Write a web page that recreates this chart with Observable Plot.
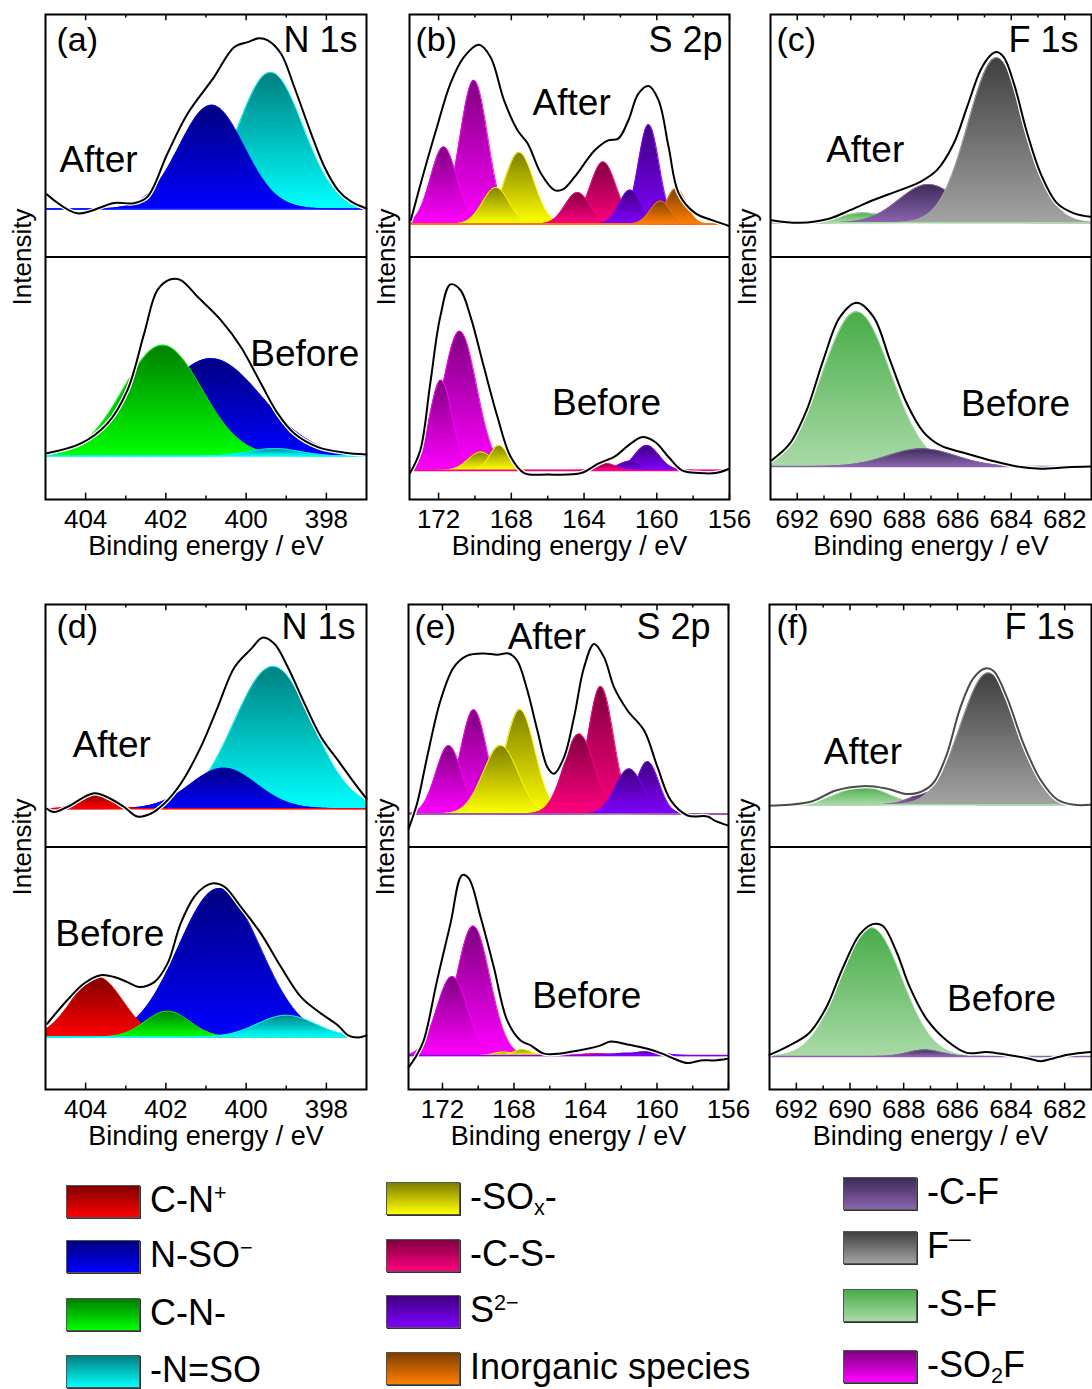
<!DOCTYPE html>
<html><head><meta charset="utf-8">
<script src="https://cdn.jsdelivr.net/npm/d3@7"></script>
<script src="https://cdn.jsdelivr.net/npm/@observablehq/plot@0.6"></script>
<style>
body{margin:0;background:#fff;font-family:"Liberation Sans",Arial,sans-serif;}
#root{position:relative;width:1092px;height:1389px;overflow:hidden;background:#fff;}
#root svg.pp{position:absolute;overflow:visible;}
.sw{position:absolute;width:72px;height:31px;border:1px solid #555;box-shadow:1px 1px 0 #333;}
.lt{position:absolute;font-size:36px;line-height:1;transform:translateY(-50%);white-space:nowrap;color:#000;}
.lt sup{font-size:60%;vertical-align:0.55em;line-height:0;}
.lt sub{font-size:60%;vertical-align:-0.3em;line-height:0;}
</style></head><body><div id="root"></div>
<script>
// ---------- species & colours ----------
const species = ["C-N+","N-SO-","C-N-","-N=SO","-SOx-","-C-S-","S2-","Inorg","-C-F","F-","-S-F","-SO2F"];
const darkColors   = ["#7f0000","#00007f","#007f00","#007f7f","#7f7f00","#7f003f","#3f007f","#7f3f00","#3d2a57","#3f3f3f","#48ad48","#7f007f"];
const brightColors = ["#ff0000","#0000ff","#00ff00","#00ffff","#ffff00","#ff007f","#7f00ff","#ff7f00","#8a64ad","#a3a3a3","#a8daa6","#ff00ff"];

// ---------- ticks ----------
const nTicks = [404,402,400,398], nMinor = [403,401,399];
const sTicks = [172,168,164,160,156], sMinor = [170,166,162,158];
const fTicks = [692,690,688,686,684,682], fMinor = [691,689,687,685,683];

// ---------- peaks: [species, centre eV, FWHM eV, height] (draw order) ----------
const peaksA_after  = [["-N=SO",399.39,1.9,56.3],["N-SO-",400.86,1.9,42.8]];
const peaksA_before = [["N-SO-",400.875,3.0,40.2],["C-N-",402.08,2.3,45.7],["-N=SO",399.29,1.5,3.1]];
const peaksB_after  = [["-SO2F",170.06,1.8,59.3],["-SO2F",171.72,1.7,31.8],["-SOx-",167.57,1.9,29.5],["-SOx-",168.86,1.7,15.1],
                       ["-C-S-",162.95,1.7,25.6],["-C-S-",164.36,1.6,13.0],["S2-",160.45,1.35,41.0],["S2-",161.47,1.4,14.0],
                       ["Inorg",158.94,1.3,14.7],["Inorg",159.81,1.3,9.5]];
const peaksB_before = [["-SO2F",170.84,2.2,57.4],["-SO2F",171.87,1.45,37.2],["-SOx-",169.69,1.6,7.6],["-SOx-",168.68,1.2,10.3],
                       ["S2-",160.55,1.6,10.3],["S2-",161.47,1.5,3.8],["-C-S-",162.76,1.2,2.8]];
const peaksC_after  = [["-S-F",689.53,2.1,4.1],["-C-F",687.09,2.6,15.8],["F-",684.55,2.5,68.1]];
const peaksC_before = [["-S-F",689.78,3.0,63.8],["-C-F",687.34,3.0,7.3]];
const peaksD_after  = [["-N=SO",399.33,2.3,58.6],["N-SO-",400.56,1.95,16.7],["C-N+",403.77,0.85,6.8]];
const peaksD_before = [["N-SO-",400.67,2.4,61.3],["C-N+",403.71,1.5,24.8],["C-N-",401.96,1.3,10.7],["-N=SO",399.0,1.7,9.0]];
const peaksE_after  = [["-SO2F",170.25,1.75,42.9],["-SO2F",171.65,1.7,28.1],["-SOx-",167.67,2.0,42.9],["-SOx-",168.75,2.3,28.1],
                       ["-C-S-",163.15,1.7,52.5],["-C-S-",164.36,2.0,32.9],["S2-",160.53,1.5,21.5],["S2-",161.56,1.8,18.5]];
const peaksE_before = [["-SO2F",170.28,2.2,53.4],["-SO2F",171.46,2.0,32.6],["-SOx-",168.6,1.2,1.5],["-SOx-",167.53,1.2,2.4],
                       ["-C-S-",163.33,2.0,0.8],["S2-",160.53,2.0,1.6],["S2-",161.65,2.0,1.0]];
const peaksF_after  = [["-S-F",689.53,2.2,7.4],["-C-F",687.09,1.5,4.9],["F-",684.84,2.45,54.4]];
const peaksF_before = [["-S-F",689.21,2.7,53.1],["-C-F",687.21,1.5,2.7]];

// ---------- baselines [after, before] and the species whose line shows on them ----------
const baseA = [19.8,17.9], baseB = [13.6,12.0], baseC = [14.1,13.6];
const baseD = [15.8,21.6], baseE = [13.7,14.0], baseF = [17.4,13.6];
const baseLineA = ["N-SO-","-N=SO"], baseLineB = ["Inorg","-C-S-"], baseLineC = ["-S-F","-C-F"];
const baseLineD = ["C-N+","-N=SO"], baseLineE = ["-C-F","S2-"], baseLineF = ["-S-F","-C-F"];

// ---------- measured envelopes [eV, intensity] ----------
const envA_after = [[404.96,25.8],[404.21,18.0],[403.29,22.3],[402.8,22.2],[402.46,24.8],[401.96,42.7],[401.46,59.1],[400.8,74.2],[400.3,86.5],[399.96,88.6],[399.68,90.2],[399.46,89.3],[399.13,83.8],[398.8,70.1],[398.38,50.9],[398.05,37.2],[397.71,27.6],[397.38,22.8],[397.0,20.0]];
const envA_before = [[404.96,19.1],[404.13,23.0],[403.46,31.3],[402.96,45.0],[402.54,68.5],[402.21,86.4],[401.88,90.8],[401.63,90.5],[401.21,83.6],[400.63,74.0],[400.13,62.9],[399.63,47.8],[399.21,35.4],[398.79,27.1],[398.21,21.6],[397.54,19.3],[397.0,18.6]];
const envB_after = [[173.53,15.2],[172.83,34.4],[172.09,53.6],[171.35,71.5],[170.61,82.4],[169.78,87.5],[169.14,82.4],[168.40,64.6],[167.66,52.3],[167.10,46.8],[166.37,34.4],[165.63,27.6],[165.16,27.9],[164.52,33.0],[163.41,44.0],[162.67,48.1],[162.12,48.8],[161.56,56.4],[161.01,67.4],[160.45,70.5],[159.90,64.6],[159.35,45.4],[158.79,26.2],[157.87,18.0],[156.95,15.2],[156.02,12.8]];
const envB_before = [[173.57,10.9],[173.01,20.2],[172.46,47.8],[171.91,75.3],[171.35,88.7],[170.80,86.4],[170.24,75.3],[169.51,54.7],[168.76,34.0],[168.03,17.5],[167.29,10.9],[165.99,10.3],[164.15,10.9],[163.22,14.8],[162.30,17.8],[161.56,22.3],[160.83,25.7],[160.09,23.7],[159.35,17.5],[158.61,12.0],[157.68,10.9],[156.76,10.9],[156.02,12.7]];
const envC_after = [[692.96,15.2],[691.90,14.1],[690.78,15.9],[690.03,19.3],[689.15,23.5],[688.15,27.6],[687.40,31.0],[686.78,35.8],[686.15,46.8],[685.65,61.9],[685.15,77.0],[684.78,83.1],[684.55,84.5],[684.28,82.4],[683.90,71.5],[683.40,50.9],[682.90,34.4],[682.28,22.1],[681.65,18.0],[681.03,16.6]];
const envC_before = [[692.96,16.1],[692.28,23.0],[691.65,36.8],[691.03,57.4],[690.40,75.3],[689.78,81.1],[689.15,75.3],[688.53,57.4],[687.90,39.5],[687.28,27.8],[686.65,22.3],[685.65,18.9],[684.65,15.8],[683.78,13.6],[682.90,12.7],[681.90,13.3],[681.03,13.6]];
const envD_after = [[404.96,15.8],[404.79,14.4],[404.46,16.5],[403.79,22.2],[403.38,19.9],[403.04,16.5],[402.71,12.6],[402.38,13.7],[402.04,17.9],[401.63,26.1],[401.13,41.2],[400.71,57.6],[400.29,74.1],[399.88,81.6],[399.58,86.4],[399.29,83.7],[398.96,74.1],[398.54,59.0],[398.13,45.3],[397.71,35.7],[397.29,26.1],[397.0,19.9]];
const envD_before = [[404.96,27.1],[404.46,36.8],[404.04,43.7],[403.63,47.1],[403.29,46.4],[402.96,44.3],[402.67,42.3],[402.29,44.3],[401.96,51.9],[401.63,68.5],[401.29,79.5],[401.04,83.6],[400.83,85.0],[400.54,83.6],[400.13,75.3],[399.63,64.3],[399.13,50.5],[398.63,38.1],[398.13,31.3],[397.71,26.4],[397.46,22.3],[397.21,21.4],[397.0,22.3]];
const envE_after = [[173.89,7.6],[173.42,17.9],[172.86,37.0],[172.11,60.4],[171.37,74.1],[170.62,78.9],[169.69,79.8],[168.94,79.3],[168.29,79.8],[167.82,76.8],[167.25,64.5],[166.69,48.0],[166.13,32.9],[165.76,30.2],[165.20,37.0],[164.64,53.5],[164.08,74.1],[163.52,83.7],[162.96,78.2],[162.40,65.8],[161.65,56.3],[160.72,48.0],[159.97,32.9],[159.23,19.2],[158.29,13.0],[157.17,12.6],[156.80,11.0],[156.05,8.9]];
const envE_before = [[173.89,9.2],[173.51,13.3],[173.05,20.2],[172.30,45.0],[171.55,68.5],[170.90,88.4],[170.53,87.1],[169.87,71.2],[169.13,50.5],[168.38,28.5],[167.63,20.2],[167.07,18.2],[166.32,14.8],[165.39,14.8],[164.64,15.8],[163.89,16.8],[163.15,18.2],[162.59,19.8],[161.65,18.6],[160.53,16.8],[159.60,14.5],[159.04,12.7],[158.29,10.9],[157.55,12.0],[156.80,12.0],[156.05,12.7]];
const envF_after = [[693.0,17.0],[692.28,17.4],[691.40,18.9],[690.53,23.3],[689.53,25.1],[688.65,24.1],[687.90,21.9],[687.40,22.6],[686.90,26.3],[686.40,38.0],[685.90,57.1],[685.40,69.6],[684.96,73.6],[684.65,72.6],[684.15,61.6],[683.53,42.4],[682.90,27.7],[682.28,19.6],[681.65,17.4],[681.03,17.4]];
const envF_before = [[693.0,14.3],[692.28,18.0],[691.53,23.2],[690.90,33.5],[690.28,49.8],[689.65,63.8],[689.15,68.2],[688.78,67.5],[688.28,57.1],[687.78,42.4],[687.15,29.1],[686.40,20.2],[685.65,15.1],[684.90,15.5],[684.15,14.3],[683.40,12.9],[682.90,11.7],[682.40,12.9],[681.90,14.3],[681.40,15.1],[681.03,15.5]];

// ---------- annotations ----------
const annA = [{x:403.68,y:139.9,t:"After"},{x:398.54,y:59.9,t:"Before"}];
const annB = [{x:164.68,y:163.4,t:"After"},{x:162.76,y:39.7,t:"Before"}];
const annC = [{x:689.46,y:144.0,t:"After"},{x:683.84,y:39.3,t:"Before"}];
const annD = [{x:403.35,y:142.2,t:"After"},{x:403.4,y:64.0,t:"Before"}];
const annE = [{x:166.17,y:186.6,t:"After"},{x:163.93,y:38.4,t:"Before"}];
const annF = [{x:689.52,y:139.3,t:"After"},{x:684.35,y:37.2,t:"Before"}];

// ---------- legend ----------
const legendCols = [["C-N+","N-SO-","C-N-","-N=SO"],["-SOx-","-C-S-","S2-","Inorg"],["-C-F","F-","-S-F","-SO2F"]];
const legendText = {"C-N+":"C-N<sup>+</sup>","N-SO-":"N-SO<sup>&minus;</sup>","C-N-":"C-N-","-N=SO":"-N=SO",
  "-SOx-":"-SO<sub>x</sub>-","-C-S-":"-C-S-","S2-":"S<sup>2&minus;</sup>","Inorg":"Inorganic species",
  "-C-F":"-C-F","F-":"F<sup>&mdash;</sup>","-S-F":"-S-F","-SO2F":"-SO<sub>2</sub>F"};

// ================= drawing =================
const root = document.getElementById("root");
root.insertAdjacentHTML("beforeend",
  `<svg width="0" height="0" style="position:absolute"><defs>${species.map((s,i)=>
   `<linearGradient id="g${i}" x1="0" y1="0" x2="0" y2="1"><stop offset="0" stop-color="${darkColors[i]}"/><stop offset="1" stop-color="${brightColors[i]}"/></linearGradient>`).join("")}</defs></svg>`);

const FONT = "Liberation Sans, Arial, sans-serif";

function makePanel(cfg) {
  const {domain, major, minor, frame:[fl, ft, fw, fh], subs, ann, label, core, labDx, coreDx, labDy, envColor} = cfg;
  const mL = 40, mR = 2, mT = 2, mB = 62;
  const marks = [];
  const lo = Math.min(...domain), hi = Math.max(...domain);
  subs.forEach(([peaks, base, env, off, baseSp]) => {
    for (const [sp, c, fwhm, h] of peaks) {
      const k = species.indexOf(sp);
      const pts = d3.range(0, 301).map(i => {
        const x = lo + (hi - lo) * i / 300;
        return {x, y: off + base + h * Math.exp(-4 * Math.LN2 * ((x - c) / fwhm) ** 2)};
      });
      marks.push(Plot.areaY(pts, {x: "x", y1: off + base, y2: "y", fill: `url(#g${k})`}));
      marks.push(Plot.line(pts, {x: "x", y: "y", stroke: brightColors[k], strokeWidth: 1}));
    }
    marks.push(Plot.ruleY([off + base], {stroke: brightColors[species.indexOf(baseSp)], strokeWidth: 1.5}));
    const e = env.map(([x, y]) => ({x, y: y + off}));
    marks.push(Plot.line(e, {x: "x", y: "y", stroke: "white", strokeWidth: 4.5, curve: "catmull-rom"}));
    marks.push(Plot.line(e, {x: "x", y: "y", stroke: off > 0 && envColor ? envColor : "black", strokeWidth: 2, curve: "catmull-rom"}));
  });
  // ticks (inside, top and bottom)
  marks.push(Plot.ruleX(major, {y1: 0, y2: 2.6, stroke: "black", strokeWidth: 1.5}));
  marks.push(Plot.ruleX(major, {y1: 200, y2: 197.4, stroke: "black", strokeWidth: 1.5}));
  marks.push(Plot.ruleX(minor, {y1: 0, y2: 1.4, stroke: "black", strokeWidth: 1.5}));
  marks.push(Plot.ruleX(minor, {y1: 200, y2: 198.6, stroke: "black", strokeWidth: 1.5}));
  marks.push(Plot.ruleY([100], {stroke: "black", strokeWidth: 2}));
  marks.push(Plot.frame({stroke: "black", strokeWidth: 2}));
  marks.push(Plot.text(major, {x: d => d, frameAnchor: "bottom", lineAnchor: "middle", dy: 20, text: d => String(d), fontSize: 26, fill: "black"}));
  marks.push(Plot.text(["Binding energy / eV"], {frameAnchor: "bottom", lineAnchor: "middle", textAnchor: "middle", dy: 47, text: d => d, fontSize: 27, fill: "black"}));
  marks.push(Plot.text(["Intensity"], {frameAnchor: "left", lineAnchor: "middle", textAnchor: "middle", dx: -23, rotate: -90, text: d => d, fontSize: 26, fill: "black"}));
  marks.push(Plot.text([label], {frameAnchor: "top-left", lineAnchor: "middle", dx: labDx, dy: labDy, textAnchor: "start", text: d => d, fontSize: 34, fill: "black"}));
  marks.push(Plot.text([core], {frameAnchor: "top-right", lineAnchor: "middle", dx: coreDx, dy: labDy, textAnchor: "end", text: d => d, fontSize: 36, fill: "black"}));
  marks.push(Plot.text(ann, {x: "x", y: "y", text: "t", lineAnchor: "middle", fontSize: 37, fill: "black"}));
  const svg = Plot.plot({
    width: mL + fw + mR, height: mT + fh + mB,
    marginLeft: mL, marginRight: mR, marginTop: mT, marginBottom: mB,
    x: {domain, axis: null}, y: {domain: [0, 200], axis: null},
    style: {fontFamily: FONT, color: "black", background: "transparent", overflow: "visible"},
    marks
  });
  svg.classList.add("pp");
  svg.style.left = (fl - mL) + "px";
  svg.style.top = (ft - mT) + "px";
  root.appendChild(svg);
}

const panelCfgs = [
  {domain:[405,397], major:nTicks, minor:nMinor, frame:[45,14,321,485], label:"(a)", core:"N 1s", labDx:11, coreDx:-9, labDy:26,
   subs:[[peaksA_after,baseA[0],envA_after,100,baseLineA[0]],[peaksA_before,baseA[1],envA_before,0,baseLineA[1]]], ann:annA},
  {domain:[173.6,156], major:sTicks, minor:sMinor, frame:[409,14,320,485], label:"(b)", core:"S 2p", labDx:6, coreDx:-7, labDy:26,
   subs:[[peaksB_after,baseB[0],envB_after,100,baseLineB[0]],[peaksB_before,baseB[1],envB_before,0,baseLineB[1]]], ann:annB},
  {domain:[693,681], major:fTicks, minor:fMinor, frame:[770,14,321,485], label:"(c)", core:"F 1s", labDx:6, coreDx:-13, labDy:26,
   subs:[[peaksC_after,baseC[0],envC_after,100,baseLineC[0]],[peaksC_before,baseC[1],envC_before,0,baseLineC[1]]], ann:annC},
  {domain:[405,397], major:nTicks, minor:nMinor, frame:[45,604,321,485], label:"(d)", core:"N 1s", labDx:11, coreDx:-11, labDy:23,
   subs:[[peaksD_after,baseD[0],envD_after,100,baseLineD[0]],[peaksD_before,baseD[1],envD_before,0,baseLineD[1]]], ann:annD},
  {domain:[173.9,156], major:sTicks, minor:sMinor, frame:[408,604,320,485], label:"(e)", core:"S 2p", labDx:6, coreDx:-18, labDy:23,
   subs:[[peaksE_after,baseE[0],envE_after,100,baseLineE[0]],[peaksE_before,baseE[1],envE_before,0,baseLineE[1]]], ann:annE},
  {domain:[693,681], major:fTicks, minor:fMinor, frame:[769,604,322,485], label:"(f)", core:"F 1s", labDx:7, coreDx:-17, labDy:23, envColor:"#4a4a4a",
   subs:[[peaksF_after,baseF[0],envF_after,100,baseLineF[0]],[peaksF_before,baseF[1],envF_before,0,baseLineF[1]]], ann:annF}
];
panelCfgs.forEach(makePanel);

// legend (HTML, below the plots)
const colX = [66, 386, 843];
const rowY = [[1185,1240,1298,1355],[1182,1239,1295,1352],[1177,1231,1289,1350]];
legendCols.forEach((col, ci) => col.forEach((sp, ri) => {
  const k = species.indexOf(sp);
  const sw = document.createElement("div");
  sw.className = "sw";
  sw.style.left = colX[ci] + "px";
  sw.style.top = rowY[ci][ri] + "px";
  sw.style.background = `linear-gradient(${darkColors[k]}, ${brightColors[k]})`;
  root.appendChild(sw);
  const t = document.createElement("div");
  t.className = "lt";
  t.style.left = (colX[ci] + 84) + "px";
  t.style.top = (rowY[ci][ri] + 15) + "px";
  t.innerHTML = legendText[sp];
  root.appendChild(t);
}));
</script></body></html>
